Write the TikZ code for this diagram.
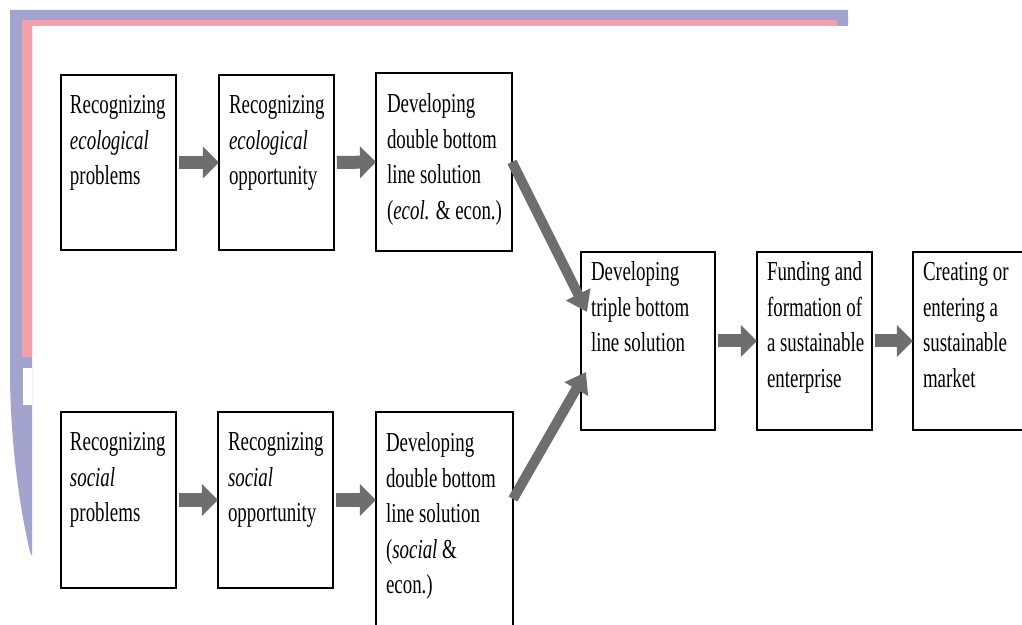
\documentclass[tikz,border=0pt]{standalone}
\usepackage{fontspec}
\setmainfont{Liberation Serif}
\usepackage{graphicx}
\usetikzlibrary{arrows.meta,calc}

\definecolor{bandblue}{RGB}{163,163,206}
\definecolor{bandpink}{RGB}{241,161,171}
\definecolor{arrowgray}{RGB}{110,110,110}

% box caption: left-aligned lines, slightly condensed type
\newcommand{\boxtext}[1]{\scalebox{0.69}[1]{\begin{tabular}[t]{@{}l@{}}#1\end{tabular}}}

\tikzset{
  stepbox/.style={draw, line width=0.35mm, inner sep=0pt, outer sep=0pt},
  boxlabel/.style={inner sep=0pt, outer sep=0pt, anchor=base west,
                   font=\fontsize{19.5}{25.2}\selectfont},
  flowarrow/.style={draw=arrowgray, line width=9.25pt,
                    -{Triangle[length=11.4pt,width=22pt]}},
  mergearrow/.style={draw=arrowgray, line width=7.1pt,
                    -{Triangle[length=14pt,width=18.5pt]}},
}

\begin{document}
\begin{tikzpicture}[x=0.25mm,y=-0.25mm]
  \useasboundingbox (0,0) rectangle (1022,625);
  \clip (0,0) rectangle (1022,625);
  \fill[white] (0,0) rectangle (1022,625);

  % coloured frame behind the panel
  \fill[bandblue] (10,10) -- (848,10) -- (848,26) -- (32,26) -- (32,556)
      -- (30,552) .. controls (18,500) and (11,440) .. (10,380) -- cycle;
  \fill[bandpink] (22,20) -- (837,20) -- (837,26) -- (32,26) -- (32,357)
      -- (22,357) -- cycle;
  \fill[white] (23,368) rectangle (32,405);

  % ecological row
  \node[stepbox, minimum width=28.75mm, minimum height=43.75mm] (A1) at (118.5,162.5) {};
  \node[stepbox, minimum width=28.75mm, minimum height=43.75mm] (A2) at (276.5,162.5) {};
  \node[stepbox, minimum width=34mm, minimum height=44.5mm] (A3) at (444,162) {};
  % social row
  \node[stepbox, minimum width=28.75mm, minimum height=44mm] (B1) at (118.5,500) {};
  \node[stepbox, minimum width=28.75mm, minimum height=44mm] (B2) at (275.5,500) {};
  \node[stepbox, minimum width=34.25mm, minimum height=74mm] (B3) at (444.5,560) {};
  % merged path
  \node[stepbox, minimum width=33.5mm, minimum height=44.5mm] (C1) at (648,341) {};
  \node[stepbox, minimum width=28.75mm, minimum height=44.5mm] (C2) at (814.5,341) {};
  \node[stepbox, minimum width=31.75mm, minimum height=44.5mm] (C3) at (976.5,341) {};

  % captions
  \node[boxlabel] (tA1) at ($(A1.north west)+(9,39)$)
    {\boxtext{Recognizing\\\textit{ecological}\\problems}};
  \node[boxlabel] (tA2) at ($(A2.north west)+(10,39)$)
    {\boxtext{Recognizing\\\textit{ecological}\\opportunity}};
  \node[boxlabel] (tA3) at ($(A3.north west)+(11,40)$)
    {\boxtext{Developing\\double bottom\\line solution\\(\textit{ecol.} \& econ.)}};
  \node[boxlabel] (tB1) at ($(B1.north west)+(9,39)$)
    {\boxtext{Recognizing\\\textit{social}\\problems}};
  \node[boxlabel] (tB2) at ($(B2.north west)+(10,39)$)
    {\boxtext{Recognizing\\\textit{social}\\opportunity}};
  \node[boxlabel] (tB3) at ($(B3.north west)+(10,40)$)
    {\boxtext{Developing\\double bottom\\line solution\\(\textit{social} \&\\econ.)}};
  \node[boxlabel] (tC1) at ($(C1.north west)+(10,29)$)
    {\boxtext{Developing\\triple bottom\\line solution}};
  \node[boxlabel] (tC2) at ($(C2.north west)+(10,29)$)
    {\boxtext{Funding and\\formation of\\a sustainable\\enterprise}};
  \node[boxlabel] (tC3) at ($(C3.north west)+(10,29)$)
    {\boxtext{Creating or\\entering a\\sustainable\\market}};

  % arrow ends on the merge box
  \coordinate (B3out) at ($(B3.north east)+(0,87)$);
  \coordinate (C1up) at ($(C1.west)+(6,-29)$);
  \coordinate (C1low) at ($(C1.west)+(5,31)$);

  % arrows
  \draw[flowarrow] ([xshift=2]A1.east) -- (A2.west);
  \draw[flowarrow] ([xshift=2]A2.east) -- (A3.west);
  \draw[flowarrow] ([xshift=2]B1.east) -- (B2.west);
  \draw[flowarrow] ([xshift=2]B2.east) -- (B3.west |- B2.east);
  \draw[mergearrow] (A3.east) -- (C1up);
  \draw[mergearrow] (B3out) -- (C1low);
  \draw[flowarrow] ([xshift=2]C1.east) -- (C2.west);
  \draw[flowarrow] ([xshift=2]C2.east) -- (C3.west);
\end{tikzpicture}
\end{document}
